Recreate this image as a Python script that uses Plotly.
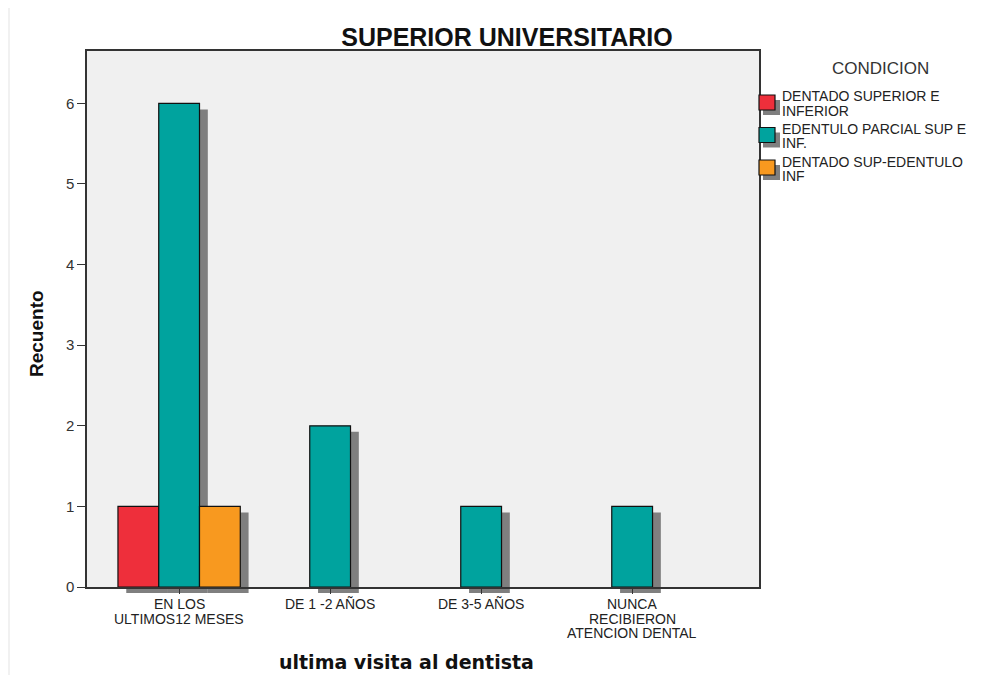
import plotly.graph_objects as go

# recuento por ultima visita al dentista y condicion
categorias = ['EN LOS ULTIMOS12 MESES', 'DE 1 -2 AÑOS', 'DE 3-5 AÑOS',
              'NUNCA RECIBIERON ATENCION DENTAL']
etiquetas = [['EN LOS', 'ULTIMOS12 MESES'], ['DE 1 -2 AÑOS'], ['DE 3-5 AÑOS'],
             ['NUNCA', 'RECIBIERON', 'ATENCION DENTAL']]
dentado_sup_inf = [1, None, None, None]
edentulo_parcial = [6, 2, 1, 1]
dentado_sup_edentulo_inf = [1, None, None, None]

nombres = [['DENTADO SUPERIOR E', 'INFERIOR'], ['EDENTULO PARCIAL SUP E', 'INF.'],
           ['DENTADO SUP-EDENTULO', 'INF']]
colores = ['#ee2f3b', '#00a39e', '#f8991f']
series = [dentado_sup_inf, edentulo_parcial, dentado_sup_edentulo_inf]

FONT = 'Arial, Liberation Sans, sans-serif'
ymax = 6.65
bargap = 0.19
w = (1 - bargap) / 3   # ancho de barra en unidades de categoria

# area de dibujo en pixeles de pagina (la pagina tiene 8px de margen)
L, R, T, B = 87, 759, 51, 587
def px(p):
    return (p - L) / (R - L)
def py(p):
    return (B - p) / (B - T)

fig = go.Figure()
for j in range(3):
    fig.add_trace(go.Bar(x=categorias, y=series[j], name=' '.join(nombres[j]),
                         showlegend=False,
                         marker=dict(color=colores[j], line=dict(color='#111', width=1.2))))

# sombras de las barras
dy = 6 / (B - T)
dx = 0.055
for j in range(3):
    for i, v in enumerate(series[j]):
        if v is None:
            continue
        c = i + (j - 1) * w
        fig.add_shape(type='rect', xref='x', yref='paper', layer='below',
                      x0=c - w / 2 + dx, x1=c + w / 2 + dx,
                      y0=-dy, y1=v / ymax - dy,
                      fillcolor='#7f7f7f', line_width=0)

# marco exterior tenue
fig.add_shape(type='rect', xref='paper', yref='paper', layer='below',
              x0=px(9), x1=px(1030), y0=py(700), y1=py(7),
              line=dict(color='#e3e3e3', width=1), fillcolor='rgba(0,0,0,0)')

anns = [
    dict(text='<b>Recuento</b>', xref='paper', yref='paper', x=px(36), y=py(334),
         xanchor='center', yanchor='middle', textangle=-90, showarrow=False,
         font=dict(size=19, color='#111')),
    dict(text='<b>ultima visita al dentista</b>', xref='paper', yref='paper',
         x=px(406), y=py(662), xanchor='center', yanchor='middle', showarrow=False,
         font=dict(size=19, color='#111', family='DejaVu Sans, Verdana, sans-serif')),
    dict(text='CONDICION', xref='paper', yref='paper', x=px(880), y=py(68),
         xanchor='center', yanchor='middle', showarrow=False,
         font=dict(size=17, color='#333')),
]

# etiquetas del eje x, una linea por anotacion para un interlineado apretado
for i, lineas in enumerate(etiquetas):
    for n, linea in enumerate(lineas):
        anns.append(dict(text=linea, xref='x', yref='paper', x=i, y=py(604 + n * 14.5),
                         xanchor='center', yanchor='middle', showarrow=False,
                         font=dict(size=14, color='#222')))

# leyenda dibujada a mano
for k in range(3):
    top = 95 + k * 32.5
    fig.add_shape(type='rect', xref='paper', yref='paper',
                  x0=px(763), x1=px(780), y0=py(top + 20), y1=py(top + 5),
                  fillcolor='#7f7f7f', line_width=0)
    fig.add_shape(type='rect', xref='paper', yref='paper',
                  x0=px(759), x1=px(775), y0=py(top + 15), y1=py(top),
                  fillcolor=colores[k], line=dict(color='#111', width=1.2))
    for n, linea in enumerate(nombres[k]):
        anns.append(dict(text=linea, xref='paper', yref='paper', x=px(780),
                         y=py(top + 1.5 + n * 14.5), xanchor='left', yanchor='middle',
                         showarrow=False, font=dict(size=14, color='#222')))

fig.update_layout(
    width=1003, height=675,
    margin=dict(l=L - 8, r=1003 + 8 - R, t=T - 8, b=675 + 8 - B),
    paper_bgcolor='white', plot_bgcolor='#f0f0f0',
    barmode='group', bargap=bargap, bargroupgap=0,
    font=dict(family=FONT, color='#222'),
    title=dict(text='<b>SUPERIOR UNIVERSITARIO</b>', x=(507 - 8) / 1003, xanchor='center',
               y=1 - (37 - 8) / 675, yanchor='middle', font=dict(size=25, color='#111')),
    showlegend=False,
    xaxis=dict(range=[-0.61, 3.84], showline=True, linecolor='#333', linewidth=1.5,
               mirror=True, ticks='outside', ticklen=5, tickcolor='#333',
               showticklabels=False, showgrid=False),
    yaxis=dict(range=[0, ymax], showline=True, linecolor='#333', linewidth=1.5,
               mirror=True, ticks='outside', ticklen=8, tickcolor='#333',
               tickfont=dict(size=15, color='#333'), dtick=1, showgrid=False,
               zeroline=False),
    annotations=anns,
)

fig.write_html("out.html")
